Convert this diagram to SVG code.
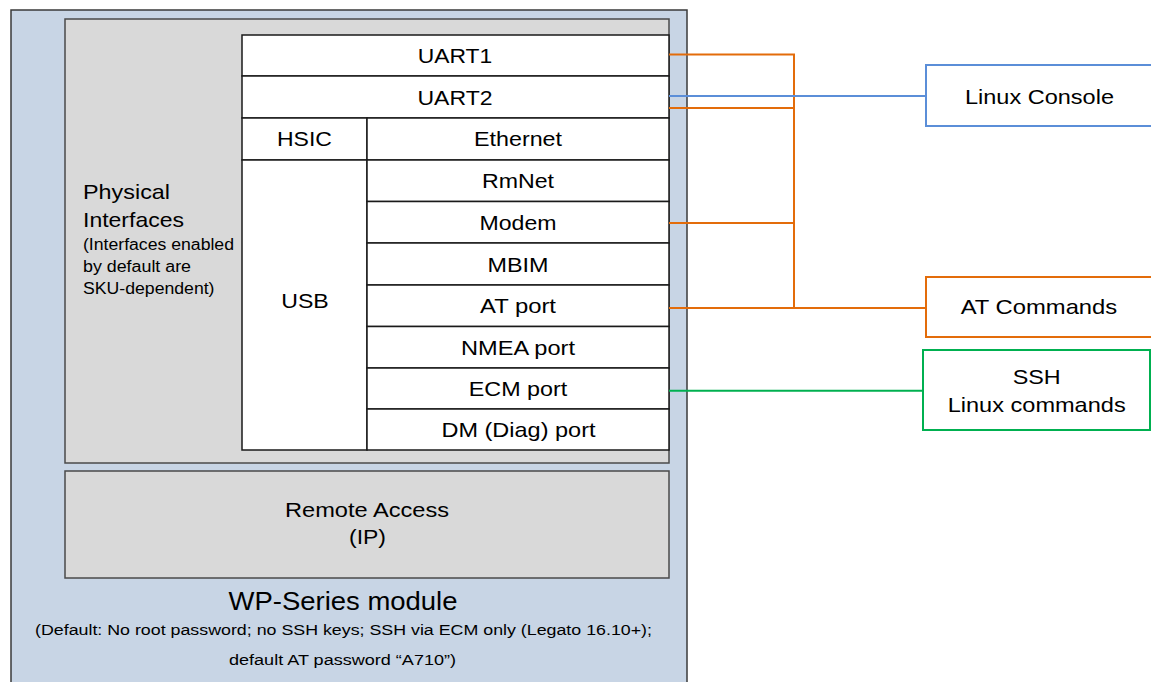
<svg xmlns="http://www.w3.org/2000/svg" width="1151" height="682" viewBox="0 0 1151 682">
  <style>
    text { font-family: "Liberation Sans", Arial, sans-serif; fill: #000; }
    .t20 { font-size: 21px; text-anchor: middle; }
    .t24 { font-size: 25px; text-anchor: middle; }
    .lbl { font-size: 21px; }
    .small { font-size: 16px; }
    .note { font-size: 15.5px; text-anchor: middle; }
    .module { fill: #c8d5e5; stroke: #3a3a3a; stroke-width: 1.5; }
    .panel { fill: #d9d9d9; stroke: #4a4a4a; stroke-width: 1.5; }
    .cell { fill: #ffffff; stroke: #1a1a1a; stroke-width: 1.5; }
    .wire { fill: none; stroke-width: 2; }
    .orange { stroke: #e36c0a; }
    .blue { stroke: #5b8ed8; }
    .green { stroke: #00b050; }
    .ext { fill: #ffffff; stroke-width: 2; }
  </style>

  <!-- WP-Series module frame -->
  <g id="module">
    <rect class="module" x="11" y="10" width="676" height="690"/>
    <text class="t24" x="343" y="609.5" textLength="229" lengthAdjust="spacingAndGlyphs">WP-Series module</text>
    <text class="note" x="343.5" y="634.5" textLength="617" lengthAdjust="spacingAndGlyphs">(Default: No root password; no SSH keys; SSH via ECM only (Legato 16.10+);</text>
    <text class="note" x="342.5" y="665" textLength="227" lengthAdjust="spacingAndGlyphs">default AT password “A710”)</text>
  </g>

  <!-- Physical interfaces panel -->
  <g id="physical-interfaces">
    <rect class="panel" x="65" y="19" width="604" height="444"/>
    <text class="lbl" x="83" y="199" textLength="87" lengthAdjust="spacingAndGlyphs">Physical</text>
    <text class="lbl" x="83" y="226.5" textLength="101" lengthAdjust="spacingAndGlyphs">Interfaces</text>
    <text class="small" x="83" y="250" textLength="151" lengthAdjust="spacingAndGlyphs">(Interfaces enabled</text>
    <text class="small" x="83" y="271.5" textLength="108" lengthAdjust="spacingAndGlyphs">by default are</text>
    <text class="small" x="83" y="294" textLength="131.5" lengthAdjust="spacingAndGlyphs">SKU-dependent)</text>
  </g>

  <!-- Interface table -->
  <g id="uart1">
    <rect class="cell" x="242" y="35" width="427" height="41"/>
    <text class="t20" x="455" y="63" textLength="74.5" lengthAdjust="spacingAndGlyphs">UART1</text>
  </g>
  <g id="uart2">
    <rect class="cell" x="242" y="76" width="427" height="42"/>
    <text class="t20" x="455" y="104.5" textLength="75" lengthAdjust="spacingAndGlyphs">UART2</text>
  </g>
  <g id="hsic">
    <rect class="cell" x="242" y="118" width="125" height="42"/>
    <text class="t20" x="304.5" y="146.3" textLength="55" lengthAdjust="spacingAndGlyphs">HSIC</text>
  </g>
  <g id="ethernet">
    <rect class="cell" x="367" y="118" width="302" height="42"/>
    <text class="t20" x="518" y="146.3" textLength="88" lengthAdjust="spacingAndGlyphs">Ethernet</text>
  </g>
  <g id="usb">
    <rect class="cell" x="242" y="160" width="125" height="290"/>
    <text class="t20" x="305" y="307.5" textLength="47.5" lengthAdjust="spacingAndGlyphs">USB</text>
  </g>
  <g id="rmnet">
    <rect class="cell" x="367" y="160" width="302" height="41.5"/>
    <text class="t20" x="518" y="188.3" textLength="72" lengthAdjust="spacingAndGlyphs">RmNet</text>
  </g>
  <g id="modem">
    <rect class="cell" x="367" y="201.5" width="302" height="41.5"/>
    <text class="t20" x="518" y="229.7" textLength="77" lengthAdjust="spacingAndGlyphs">Modem</text>
  </g>
  <g id="mbim">
    <rect class="cell" x="367" y="243" width="302" height="42"/>
    <text class="t20" x="518" y="271.5" textLength="61" lengthAdjust="spacingAndGlyphs">MBIM</text>
  </g>
  <g id="at-port">
    <rect class="cell" x="367" y="285" width="302" height="41.5"/>
    <text class="t20" x="518" y="313.2" textLength="76" lengthAdjust="spacingAndGlyphs">AT port</text>
  </g>
  <g id="nmea-port">
    <rect class="cell" x="367" y="326.5" width="302" height="41.5"/>
    <text class="t20" x="518" y="354.7" textLength="114" lengthAdjust="spacingAndGlyphs">NMEA port</text>
  </g>
  <g id="ecm-port">
    <rect class="cell" x="367" y="368" width="302" height="41"/>
    <text class="t20" x="518" y="396" textLength="98.5" lengthAdjust="spacingAndGlyphs">ECM port</text>
  </g>
  <g id="dm-port">
    <rect class="cell" x="367" y="409" width="302" height="41"/>
    <text class="t20" x="518.5" y="437.2" textLength="154" lengthAdjust="spacingAndGlyphs">DM (Diag) port</text>
  </g>

  <!-- Remote access block -->
  <g id="remote-access">
    <rect class="panel" x="65" y="471" width="604" height="107"/>
    <text class="t20" x="367" y="517" textLength="164" lengthAdjust="spacingAndGlyphs">Remote Access</text>
    <text class="t20" x="367.5" y="543.5" textLength="37" lengthAdjust="spacingAndGlyphs">(IP)</text>
  </g>

  <!-- Connectors -->
  <g id="connectors">
    <path class="wire orange" d="M669,54.5 H794 V308"/>
    <path class="wire orange" d="M669,108 H794"/>
    <path class="wire orange" d="M669,223 H794"/>
    <path class="wire orange" d="M669,308 H926"/>
    <path class="wire blue" d="M669,96 H926"/>
    <path class="wire green" d="M669,390.7 H923"/>
  </g>

  <!-- External access endpoints -->
  <g id="linux-console">
    <rect class="ext blue" x="926" y="65" width="240" height="61"/>
    <text class="t20" x="1039.5" y="103.5" textLength="149" lengthAdjust="spacingAndGlyphs">Linux Console</text>
  </g>
  <g id="at-commands">
    <rect class="ext orange" x="926" y="277" width="240" height="60"/>
    <text class="t20" x="1039" y="314.3" textLength="156.5" lengthAdjust="spacingAndGlyphs">AT Commands</text>
  </g>
  <g id="ssh">
    <rect class="ext green" x="923" y="350" width="227" height="80"/>
    <text class="t20" x="1036.7" y="383.5" textLength="48" lengthAdjust="spacingAndGlyphs">SSH</text>
    <text class="t20" x="1036.7" y="412" textLength="178" lengthAdjust="spacingAndGlyphs">Linux commands</text>
  </g>
</svg>
